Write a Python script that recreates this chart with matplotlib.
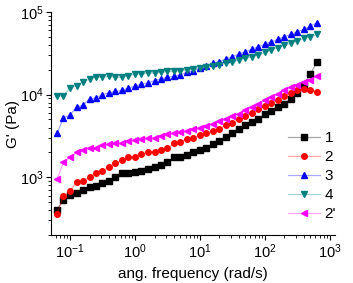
import numpy as np
import matplotlib
matplotlib.use('Agg')
import matplotlib.pyplot as plt
from matplotlib.ticker import LogLocator, NullFormatter

plt.rcParams['font.family'] = ['Liberation Sans', 'DejaVu Sans']
plt.rcParams['mathtext.default'] = 'regular'
plt.rcParams['font.size'] = 10.5

# angular frequency (rad/s)
freq = [0.0631, 0.0794, 0.1, 0.126, 0.158, 0.2, 0.251, 0.316, 0.398, 0.501,
        0.631, 0.794, 1, 1.26, 1.58, 2, 2.51, 3.16, 3.98, 5.01,
        6.31, 7.94, 10, 12.6, 15.8, 20, 25.1, 31.6, 39.8, 50.1,
        63.1, 79.4, 100, 126, 158, 200, 251, 316, 398, 501, 631]

# G' (Pa) for each sample
g1 = [407, 525, 603, 646, 692, 759, 794, 851, 912, 1000,
      1122, 1122, 1148, 1202, 1259, 1318, 1413, 1514, 1738, 1738,
      1862, 1995, 2138, 2291, 2512, 2754, 3090, 3467, 3802, 4266,
      4677, 5129, 5754, 6310, 7079, 7762, 8913, 10470, 13180, 17780, 24550]
g2 = [363, 589, 676, 871, 912, 1000, 1122, 1202, 1318, 1479,
      1622, 1738, 1778, 1905, 1995, 2042, 2138, 2239, 2570, 2692,
      2884, 3020, 3236, 3388, 3631, 3890, 4266, 4571, 5012, 5495,
      6026, 6607, 7244, 7943, 8710, 9550, 10470, 11220, 11750, 11480, 10720]
g3 = [3388, 5248, 5623, 7079, 7413, 8913, 9120, 10000, 10470, 10960,
      11220, 12020, 12590, 13490, 13800, 14790, 15490, 16220, 16600, 17380,
      18620, 19500, 20890, 22390, 23990, 25120, 26920, 28840, 30900, 33110,
      35480, 38020, 40740, 43650, 46770, 50120, 53700, 57540, 61660, 67610, 74130]
g4 = [9500, 9700, 12020, 12880, 14130, 15490, 16220, 16220, 16600, 16220,
      16220, 16980, 17780, 17780, 18200, 18200, 18620, 19050, 19050, 19500,
      19950, 20420, 20890, 21380, 22390, 22910, 23990, 24550, 26300, 27540,
      28840, 30200, 32360, 34670, 37150, 39810, 41690, 44670, 47860, 50120, 53700]
g2b = [955, 1514, 1738, 1995, 2138, 2239, 2291, 2455, 2512, 2570,
       2630, 2754, 2818, 2884, 2951, 3020, 3162, 3311, 3388, 3548,
       3631, 3802, 3981, 4169, 4467, 4786, 5129, 5495, 5888, 6457,
       7079, 7762, 8511, 9333, 10230, 11220, 12300, 13180, 14130, 15140, 16600]

series = [(g1, '1', 's', '#000000'),
          (g2, '2', 'o', '#ff0000'),
          (g3, '3', '^', '#0000ff'),
          (g4, '4', 'v', '#008080'),
          (g2b, "2'", '<', '#ff00ff')]

fig = plt.figure(figsize=(3.53, 2.83), dpi=100)
ax = fig.add_axes([0.1445, 0.1696, 0.8045, 0.788])

for g, lab, m, c in series:
    rgb = matplotlib.colors.to_rgb(c)
    ax.plot(freq, g, marker=m, color=(*rgb, 0.35), lw=0.9,
            markerfacecolor=c, markeredgecolor=c, markersize=4, label=lab)

ax.set_xscale('log')
ax.set_yscale('log')
ax.set_xlim(0.051, 1200)
ax.set_ylim(200, 1e5)
ax.spines['top'].set_visible(False)
ax.spines['right'].set_visible(False)
ax.xaxis.set_minor_locator(LogLocator(base=10, subs=np.arange(2, 10)))
ax.yaxis.set_minor_locator(LogLocator(base=10, subs=np.arange(2, 10)))
ax.xaxis.set_minor_formatter(NullFormatter())
ax.yaxis.set_minor_formatter(NullFormatter())
ax.tick_params(which='major', direction='out', length=3.5, width=0.8, pad=2,
               labelsize=10.5)
ax.tick_params(which='minor', direction='out', length=2, width=0.6)

ax.set_xlabel('ang. frequency (rad/s)', labelpad=4, fontsize=11)
ax.set_ylabel("G' (Pa)", labelpad=0, fontsize=11)

ax.legend(loc='upper left', bbox_to_anchor=(0.785, 0.575), bbox_transform=fig.transFigure,
          frameon=False, handlelength=2.1, labelspacing=0.33, handletextpad=0.3,
          borderpad=0.2, fontsize=11)

fig.savefig('out.png', dpi=100)
